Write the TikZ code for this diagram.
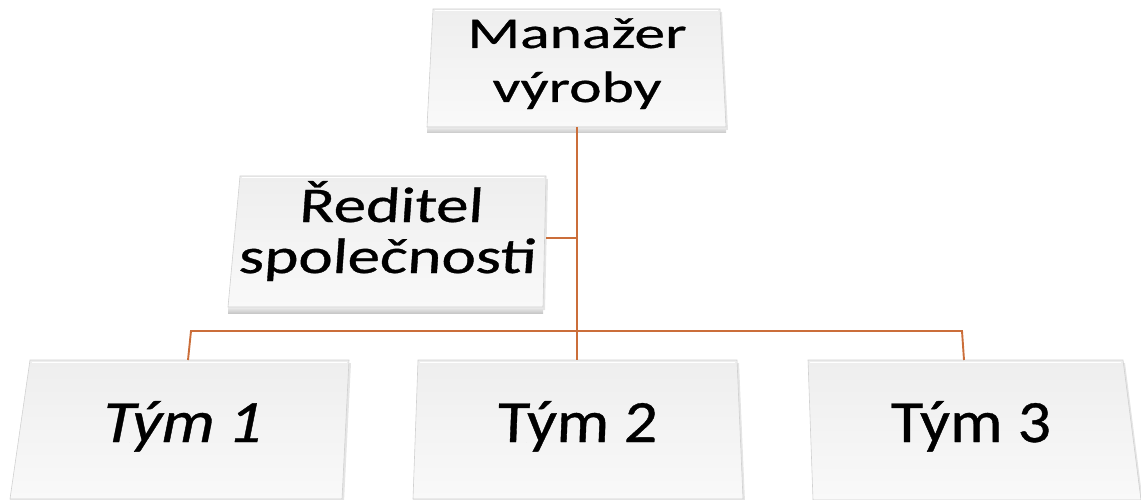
\documentclass[tikz,border=0pt]{standalone}
\usepackage{fontspec}
\setmainfont{Carlito}
\newfontfamily\panelfont{Carlito}[FakeBold=0.6]
\usepackage{graphicx}
\definecolor{linkcol}{RGB}{203,110,58}
\definecolor{panelhi}{RGB}{249,249,249}
\definecolor{panello}{RGB}{238,238,238}
\definecolor{bevel}{RGB}{200,200,200}

% panel with a bevelled lower edge: #1 name, #2-#5 corners tl, tr, br, bl
\newcommand{\orgpanel}[5]{%
  \coordinate (#1-tl) at #2;
  \coordinate (#1-tr) at #3;
  \coordinate (#1-br) at #4;
  \coordinate (#1-bl) at #5;
  \fill[black!10] ([shift={(2,3)}]#1-tl) -- ([shift={(2,3)}]#1-tr) -- ([shift={(2,3)}]#1-br) -- ([shift={(2,3)}]#1-bl) -- cycle;
  \shade[top color=panello, bottom color=panelhi] (#1-tl) -- (#1-tr) -- (#1-br) -- (#1-bl) -- cycle;
  \shade[top color=panello, bottom color=bevel] ([yshift=-6]#1-bl) -- ([yshift=-6]#1-br) -- (#1-br) -- (#1-bl) -- cycle;
  \draw[black!18, line width=0.6pt] (#1-tl) -- (#1-tr) -- (#1-br) -- (#1-bl) -- cycle;
  \draw[white, line width=1pt] ([shift={(2,2)}]#1-tl) -- ([shift={(-2,2)}]#1-tr);
}

\tikzset{
  lbl/.style={inner sep=0pt, align=center, text=black, anchor=base},
  link/.style={draw=linkcol, line width=1.9pt}
}

\begin{document}
\begin{tikzpicture}[x=1pt, y=-1pt]
  \useasboundingbox (0,0) rectangle (1141,500);

  % panels
  \orgpanel{mgr}{(433,9)}{(720,9)}{(726,127)}{(427,127)}
  \orgpanel{dir}{(240,176)}{(546,176)}{(543,307)}{(228,307)}
  \orgpanel{tA}{(30,360)}{(349,360)}{(342,499)}{(10,499)}
  \orgpanel{tB}{(418,360)}{(737,360)}{(743,499)}{(413,499)}
  \orgpanel{tC}{(808,360)}{(1123,360)}{(1141,500)}{(813,500)}

  % connector end points on the panels
  \coordinate (mgrS) at (577,127);
  \coordinate (dirE) at (546,238);
  \coordinate (busL) at (191,331);
  \coordinate (busR) at (962,331);
  \coordinate (tAN) at (188,360);
  \coordinate (tBN) at (577,360);
  \coordinate (tCN) at (964,360);

  % connectors
  \draw[link] (mgrS) -- (tBN);
  \draw[link] (dirE) -- (dirE -| mgrS);
  \draw[link, line join=miter] (tAN) -- (busL) -- (busR) -- (tCN);

  % text positions (last baselines)
  \coordinate (mgrT) at (577,102);
  \coordinate (dirT) at (387,273);
  \coordinate (tAT) at (180,442);
  \coordinate (tBT) at (577,442);
  \coordinate (tCT) at (971,442);

  \node[lbl, font=\panelfont\fontsize{44}{54}\selectfont] (mgrL) at (mgrT)
    {\scalebox{1.4}[1]{Manažer}\\\scalebox{1.4}[1]{výroby}};
  \node[lbl, font=\panelfont\fontsize{50}{51}\selectfont, xslant=0.07] (dirL) at (dirT)
    {\scalebox{1.3}[1]{Ředitel}\\\scalebox{1.3}[1]{společnosti}};
  \node[lbl, font=\panelfont\fontsize{60}{60}\selectfont, xslant=0.2] (tAL) at (tAT)
    {\scalebox{1.1}[1]{Tým 1}};
  \node[lbl, font=\panelfont\fontsize{60}{60}\selectfont, xslant=0.04] (tBL) at (tBT)
    {\scalebox{1.1}[1]{Tým 2}};
  \node[lbl, font=\panelfont\fontsize{60}{60}\selectfont] (tCL) at (tCT)
    {\scalebox{1.1}[1]{Tým 3}};
\end{tikzpicture}
\end{document}
